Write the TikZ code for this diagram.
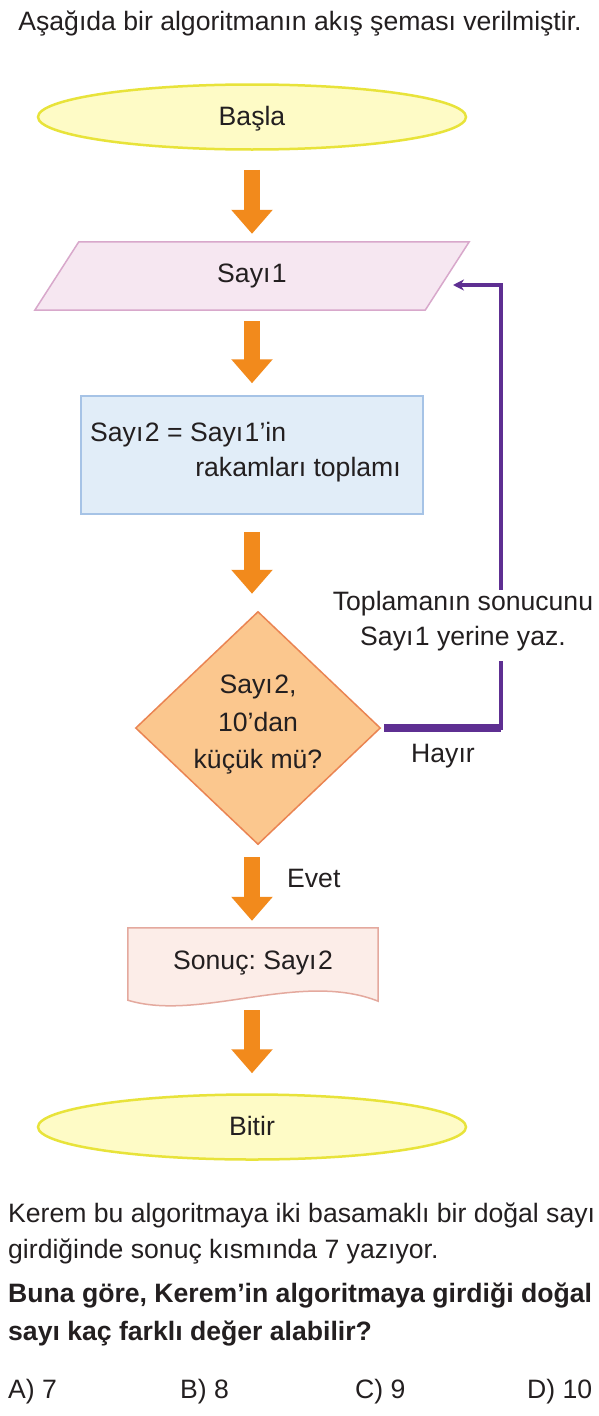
\documentclass[tikz,border=0pt]{standalone}
\usepackage{fontspec}
\setmainfont{Liberation Sans}
\usetikzlibrary{shapes.geometric,arrows.meta,calc,backgrounds}
\frenchspacing
\definecolor{txt}{HTML}{231F20}
\definecolor{ylwF}{HTML}{FEFBC6}
\definecolor{ylwD}{HTML}{E8E33A}
\definecolor{pnkF}{HTML}{F6E7F1}
\definecolor{pnkD}{HTML}{D8A8CB}
\definecolor{bluF}{HTML}{E1EDF8}
\definecolor{bluD}{HTML}{A6C3E6}
\definecolor{orgF}{HTML}{FBC78E}
\definecolor{orgD}{HTML}{EA8452}
\definecolor{docF}{HTML}{FCEDE8}
\definecolor{docD}{HTML}{E4A99E}
\definecolor{arr}{HTML}{F28A1C}
\definecolor{purp}{HTML}{5E2F92}
\begin{document}
\begin{tikzpicture}[x=1pt,y=-1pt,
  every node/.style={text=txt},
  font=\fontsize{26.6}{35}\selectfont,
  term/.style={ellipse, draw=ylwD, fill=ylwF, line width=2.5pt, minimum width=428pt, minimum height=65pt, inner sep=0pt, text height=19pt, text depth=3pt},
  flowarrow/.style={draw=arr, line width=16pt, -{Triangle[width=40pt,length=24pt]}},
  loopline/.style={draw=purp, line width=4.5pt},
  txtline/.style={anchor=base west, inner sep=0pt},
  lbl/.style={anchor=base, inner sep=0pt},
  boldline/.style={txtline, font=\fontsize{26.6}{35}\selectfont\bfseries}]
\useasboundingbox (0,0) rectangle (598,1416);

% title
\node[lbl] (title) at (300,30) {Aşağıda bir algoritmanın akış şeması verilmiştir.};

% nodes
\node[term] (start) at (252,117) {Başla};
\node[minimum width=390pt, minimum height=68pt, inner sep=0pt] (in) at (252,276) {Sayı\kern1.5pt 1};
\node[draw=bluD, fill=bluF, line width=1.5pt, minimum width=342pt, minimum height=118pt, inner sep=0pt] (sum) at (252,455) {};
\node[txtline] (s1) at (90,441) {Sayı\kern1.5pt 2 = Sayı\kern1.5pt 1’in};
\node[anchor=base east, inner sep=0pt] (s2) at (401,476) {rakamları toplamı};
\node[diamond, draw=orgD, fill=orgF, line width=1.5pt, minimum width=245pt, minimum height=233pt, inner sep=0pt] (dec) at (258,728) {};
\node[lbl] (dq1) at (258,693) {Sayı\kern1.5pt 2,};
\node[lbl] (dq2) at (258,731) {10’dan};
\node[lbl] (dq3) at (258,768) {küçük mü?};
\node[minimum width=250pt, minimum height=70pt, inner sep=0pt] (doc) at (253,963) {Sonuç: Sayı\kern1.5pt 2};
\node[term] (end) at (252,1127) {Bitir};

\begin{pgfonlayer}{background}
\fill[white] (0,0) rectangle (598,1416);
\filldraw[draw=pnkD, fill=pnkF, line width=1.5pt]
  ([xshift=22pt]in.north west) -- ([xshift=22pt]in.north east)
  -- ([xshift=-22pt]in.south east) -- ([xshift=-22pt]in.south west) -- cycle;
\filldraw[draw=docD, fill=docF, line width=1.5pt]
  (doc.north west) -- (doc.north east) -- ($(doc.south east)+(0,3)$)
  .. controls ($(doc.south)+(47,-28)$) and ($(doc.south)+(-53,24)$) .. ($(doc.south west)+(0,2)$)
  -- cycle;
\end{pgfonlayer}

% flow arrows
\draw[flowarrow, shorten <=19pt, shorten >=8pt] (start.south) -- (in.north);
\draw[flowarrow, shorten <=11pt, shorten >=12pt] (in.south) -- (in.south |- sum.north);
\draw[flowarrow, shorten <=17pt, shorten >=17pt] (sum.south) -- (sum.south |- dec.north);
\draw[flowarrow, shorten <=12pt, shorten >=7pt] (sum.south |- dec.south) -- (sum.south |- doc.north);
\draw[flowarrow, shorten <=12pt, shorten >=20pt] (sum.south |- doc.south) -- (sum.south |- end.north);

% loop back connector
\coordinate (c2) at (501,285);
\coordinate (ret) at (453,285);
\draw[loopline, -{Stealth[length=11pt,width=11pt]}, shorten <=3pt] (dec.east) -| (c2) -- (ret);
\draw[draw=purp, line width=8pt, shorten <=3pt] (dec.east) -- (dec.east -| c2);

% labels
\node[lbl, fill=white, text height=20pt, text depth=16pt] (t1) at (463,610) {Toplamanın sonucunu};
\node[lbl, fill=white, text height=20pt, text depth=16pt] (t2) at (463,645) {Sayı\kern1.5pt 1 yerine yaz.};
\node[lbl] (no) at (443,762) {Hayır};
\node[txtline] (yes) at (287,887) {Evet};

% question text
\node[txtline] (p1) at (8,1222) {Kerem bu algoritmaya iki basamaklı bir doğal sayı};
\node[txtline] (p2) at (8,1258) {girdiğinde sonuç kısmında 7 yazıyor.};
\node[boldline] (q1) at (8,1302) {Buna göre, Kerem’in algoritmaya girdiği doğal};
\node[boldline] (q2) at (8,1340) {sayı kaç farklı değer alabilir?};
\node[txtline] (oa) at (8,1398) {A) 7};
\node[txtline] (ob) at (180,1398) {B) 8};
\node[txtline] (oc) at (355,1398) {C) 9};
\node[txtline] (od) at (527,1398) {D) 10};
\end{tikzpicture}
\end{document}
